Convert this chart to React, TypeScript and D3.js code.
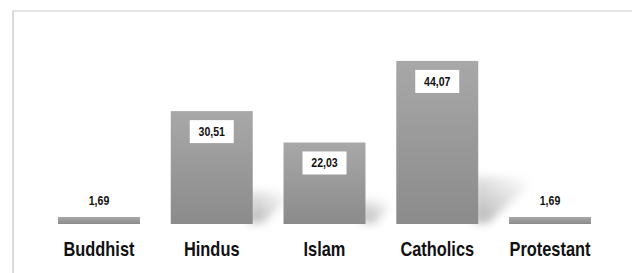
import * as d3 from "d3";

const categories = ["Buddhist", "Hindus", "Islam", "Catholics", "Protestant"];
const values = [1.69, 30.51, 22.03, 44.07, 1.69];
const valueLabels = ["1,69", "30,51", "22,03", "44,07", "1,69"];

const W = 632;
const H = 273;
const FONT = "'Liberation Sans', Arial, sans-serif";

export default function App() {
  const x = d3.scaleBand<string>().domain(categories).range([58, 591]).paddingInner(0.273).paddingOuter(0);
  const y = d3.scaleLinear().domain([0, 50]).range([224, 39]);
  const bw = x.bandwidth();
  const base = y(0);

  const rows = categories.map((c, i) => ({ c, v: values[i], label: valueLabels[i] }));

  return (
    <div style={{ position: "fixed", left: 0, top: 0 }}>
      <svg width={W} height={H} style={{ display: "block", background: "#fff" }}>
        <defs>
          <linearGradient id="barFill" x1="0" y1="0" x2="0" y2="1">
            <stop offset="0%" stopColor="#a8a8a8" />
            <stop offset="100%" stopColor="#8b8b8b" />
          </linearGradient>
          <linearGradient id="shadowFill" x1="0" y1="1" x2="0.9" y2="0.1">
            <stop offset="0%" stopColor="#000" stopOpacity={0.3} />
            <stop offset="45%" stopColor="#000" stopOpacity={0.16} />
            <stop offset="100%" stopColor="#000" stopOpacity={0} />
          </linearGradient>
          <filter id="blur" x="-40%" y="-40%" width="180%" height="180%">
            <feGaussianBlur stdDeviation={4} />
          </filter>
        </defs>

        {/* frame */}
        <line x1={12} y1={11} x2={W} y2={11} stroke="#dcdcdc" strokeWidth={1.5} />
        <line x1={13} y1={11} x2={13} y2={H} stroke="#dcdcdc" strokeWidth={2} />

        {/* cast shadows */}
        {rows.map((d) => {
          const x1 = x(d.c)! + bw;
          const h = base - y(d.v);
          if (h < 20) return null;
          const pts = [
            [x1 - 4, base - 1],
            [x1 - 4, base - h * 0.29],
            [x1 + h * 0.37, base - h * 0.29],
            [x1 + 10, base - 1],
          ];
          return (
            <polygon
              key={"s" + d.c}
              points={pts.map((p) => p.join(",")).join(" ")}
              fill="url(#shadowFill)"
              filter="url(#blur)"
            />
          );
        })}

        {rows.map((d) => {
          const x0 = x(d.c)!;
          const top = Math.min(y(d.v), base - 7);
          const cx = x0 + bw / 2;
          const big = d.v > 5;
          return (
            <g key={d.c}>
              <rect x={x0} y={top} width={bw} height={base - top} fill="url(#barFill)" />
              {big ? (
                <g>
                  <rect x={cx - 22} y={top + 9} width={44} height={23} fill="#fff" />
                  <text
                    transform={`translate(${cx},${top + 25}) scale(0.88,1)`}
                    textAnchor="middle"
                    fontFamily={FONT}
                    fontWeight="bold"
                    fontSize={12}
                    fill="#111"
                  >
                    {d.label}
                  </text>
                </g>
              ) : (
                <text
                  transform={`translate(${cx},${top - 12}) scale(0.88,1)`}
                  textAnchor="middle"
                  fontFamily={FONT}
                  fontWeight="bold"
                  fontSize={12}
                  fill="#111"
                >
                  {d.label}
                </text>
              )}
              <text
                transform={`translate(${cx},256) scale(0.82,1)`}
                textAnchor="middle"
                fontFamily={FONT}
                fontWeight="bold"
                fontSize={20}
                fill="#111"
              >
                {d.c}
              </text>
            </g>
          );
        })}
      </svg>
    </div>
  );
}
